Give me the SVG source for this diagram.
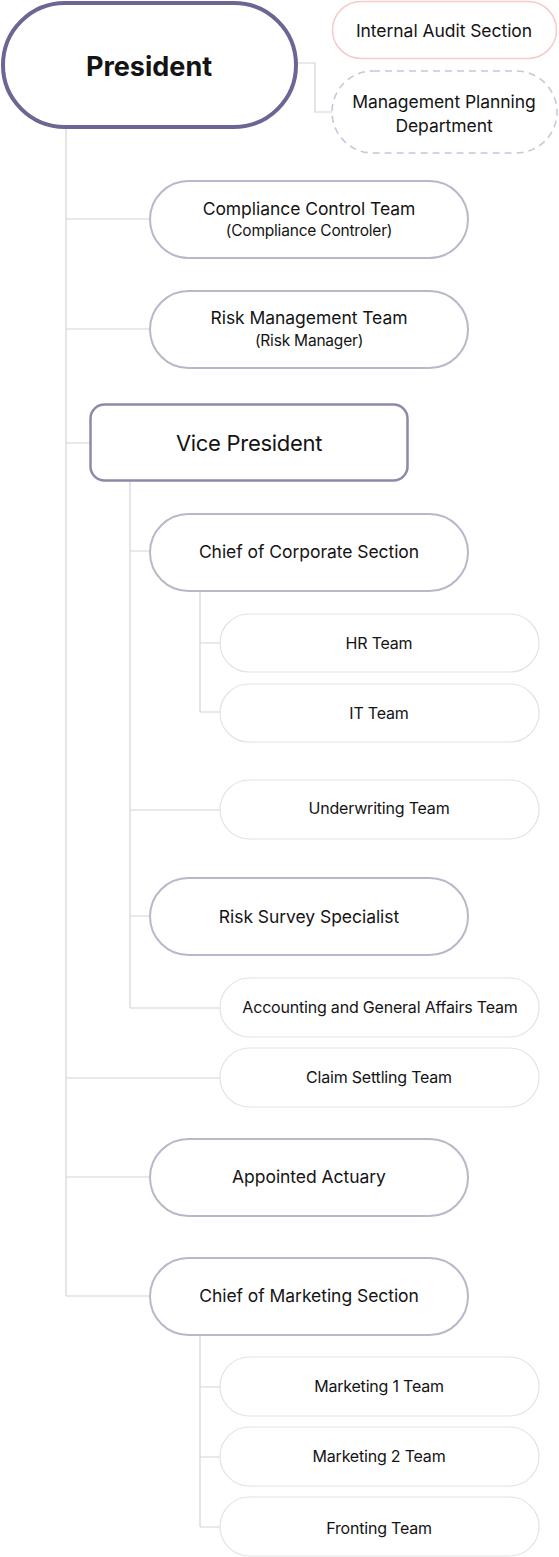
<svg xmlns="http://www.w3.org/2000/svg" width="559" height="1557" viewBox="0 0 559 1557">
<style>
text{font-family:Inter,"Noto Sans","Liberation Sans",sans-serif;fill:#141414;text-anchor:middle;dominant-baseline:central}
.big{fill:#fff;stroke:#b9b7c9;stroke-width:2}
.small{fill:#fff;stroke:#e3e3e6;stroke-width:1.2}
.t17{font-size:17.5px;letter-spacing:-0.05px}
.t14{font-size:15.5px;letter-spacing:-0.2px}
.t16{font-size:16px;letter-spacing:-0.2px}
.conn{fill:none;stroke:#d4d4d8;stroke-width:1.2}
</style>
<rect width="559" height="1557" fill="#fff"/>
<g id="connectors">
<path class="conn" d="M297 63H315V112H332"/>
<path class="conn" d="M66 128V1296"/>
<path class="conn" d="M66 219H150M66 329H150M66 443H90M66 1078H220M66 1177H150M66 1296H150"/>
<path class="conn" d="M130 481V1008M130 551H150M130 810H220M130 916H150M130 1008H220"/>
<path class="conn" d="M200 591V712M200 643H220M200 712H220"/>
<path class="conn" d="M200 1335V1527M200 1387H220M200 1457H220M200 1527H220"/>
</g>
<g id="president">
<rect x="3" y="3" width="293" height="124" rx="62" fill="#fff" stroke="#6b6693" stroke-width="4"/>
<text x="149" y="66" style="font-size:27px;font-weight:700;letter-spacing:0px">President</text>
</g>
<g id="internal-audit">
<rect x="332.5" y="1.5" width="224" height="57" rx="28.5" fill="#fff" stroke="#f6caca" stroke-width="1.5"/>
<text x="444" y="30" class="t17">Internal Audit Section</text>
</g>
<g id="management-planning">
<rect x="332" y="71" width="225" height="82" rx="41" fill="#fff" stroke="#c9c6dc" stroke-width="1.6" stroke-dasharray="7 5"/>
<text x="444" y="101" class="t17">Management Planning</text>
<text x="444" y="125" class="t17">Department</text>
</g>
<g id="compliance">
<rect class="big" x="150" y="181" width="318" height="77" rx="38.5"/>
<text x="309" y="208" class="t17">Compliance Control Team</text>
<text x="309" y="230" class="t14">(Compliance Controler)</text>
</g>
<g id="risk-management">
<rect class="big" x="150" y="291" width="318" height="77" rx="38.5"/>
<text x="309" y="317" class="t17">Risk Management Team</text>
<text x="309" y="340" class="t14">(Risk Manager)</text>
</g>
<g id="vice-president">
<rect x="90.5" y="404.5" width="317" height="76" rx="14" fill="#fff" stroke="#8d89a8" stroke-width="2.5"/>
<text x="249" y="443" style="font-size:22px;letter-spacing:-0.3px">Vice President</text>
</g>
<g id="chief-corporate">
<rect class="big" x="150" y="514" width="318" height="77" rx="38.5"/>
<text x="309" y="551" class="t17">Chief of Corporate Section</text>
</g>
<g id="hr-team">
<rect class="small" x="220" y="614" width="319" height="58" rx="29"/>
<text x="379" y="643" class="t16">HR Team</text>
</g>
<g id="it-team">
<rect class="small" x="220" y="684" width="319" height="58" rx="29"/>
<text x="379" y="713" class="t16">IT Team</text>
</g>
<g id="underwriting">
<rect class="small" x="220" y="780" width="319" height="59" rx="29.5"/>
<text x="379" y="808" class="t16">Underwriting Team</text>
</g>
<g id="risk-survey">
<rect class="big" x="150" y="878" width="318" height="77" rx="38.5"/>
<text x="309" y="916" class="t17">Risk Survey Specialist</text>
</g>
<g id="accounting">
<rect class="small" x="220" y="978" width="319" height="59" rx="29.5"/>
<text x="380" y="1007" class="t16">Accounting and General Affairs Team</text>
</g>
<g id="claim-settling">
<rect class="small" x="220" y="1048" width="319" height="59" rx="29.5"/>
<text x="379" y="1077" class="t16">Claim Settling Team</text>
</g>
<g id="appointed-actuary">
<rect class="big" x="150" y="1139" width="318" height="77" rx="38.5"/>
<text x="309" y="1176" class="t17">Appointed Actuary</text>
</g>
<g id="chief-marketing">
<rect class="big" x="150" y="1258" width="318" height="77" rx="38.5"/>
<text x="309" y="1295" class="t17">Chief of Marketing Section</text>
</g>
<g id="marketing-1">
<rect class="small" x="220" y="1357" width="319" height="59" rx="29.5"/>
<text x="379" y="1386" class="t16">Marketing 1 Team</text>
</g>
<g id="marketing-2">
<rect class="small" x="220" y="1427" width="319" height="59" rx="29.5"/>
<text x="379" y="1456" class="t16">Marketing 2 Team</text>
</g>
<g id="fronting">
<rect class="small" x="220" y="1497" width="319" height="59" rx="29.5"/>
<text x="379" y="1528" class="t16">Fronting Team</text>
</g>
</svg>
